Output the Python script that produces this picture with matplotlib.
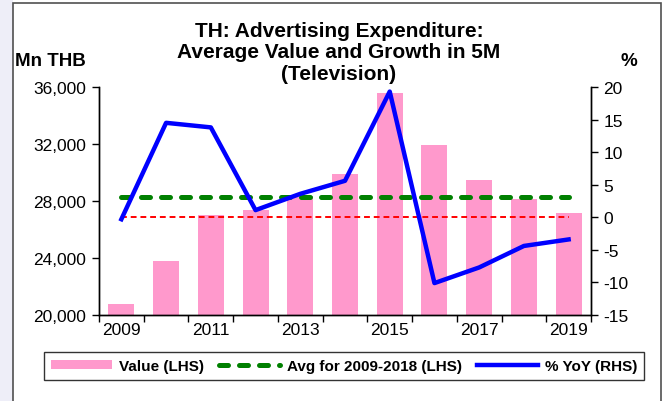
#!/usr/bin/python3
# -*- coding: utf-8 -*-

import numpy as np
import matplotlib
matplotlib.use('Agg')
import matplotlib.pyplot as plt
from matplotlib.patches import Rectangle

plt.rcParams['font.family'] = ['Liberation Sans', 'DejaVu Sans']
plt.rcParams['axes.unicode_minus'] = False

years = [2009, 2010, 2011, 2012, 2013, 2014, 2015, 2016, 2017, 2018, 2019]
value_lhs = [20770, 23790, 27040, 27350, 28370, 29870, 35580, 31930, 29470, 28160, 27180]
avg_2009_2018 = 28250
yoy_rhs = [-0.3, 14.5, 13.8, 1.1, 3.6, 5.6, 19.3, -10.1, -7.7, -4.4, -3.4]
zero_line = 0

fig = plt.figure(figsize=(6.67, 4.02), dpi=100)

# outer frame and light strip on the left, like the source slide
fig.patches.append(Rectangle((0, 0), 13 / 667, 1, transform=fig.transFigure,
                             facecolor='#eeeef8', edgecolor='none', zorder=-10))
fig.patches.append(Rectangle((13 / 667, -0.05), 648 / 667, 1.04, transform=fig.transFigure,
                             facecolor='white', edgecolor='#505050', linewidth=1.2, zorder=-9))

ax = fig.add_axes([99 / 667, 1 - 316 / 402, 492 / 667, 228 / 402])
ax2 = ax.twinx()
ax.set_zorder(1)
ax2.set_zorder(2)
ax.patch.set_visible(False)
ax2.patch.set_visible(False)

x = np.arange(len(years))

bars = ax.bar(x, value_lhs, width=0.58, color='#ff99cc', label='Value (LHS)', zorder=1)
avg_line, = ax.plot([x[0], x[-1]], [avg_2009_2018, avg_2009_2018], color='#008000', linewidth=3.6,
                    dashes=(1.8, 2.2), dash_capstyle='round', label='Avg for 2009-2018 (LHS)', zorder=3)

ax2.plot([x[0], x[-1]], [zero_line, zero_line], color='#ff0000', linewidth=1.4, dashes=(3, 2), zorder=2)
yoy_line, = ax2.plot(x, yoy_rhs, color='#0000ff', linewidth=3.2, label='% YoY (RHS)', zorder=4)

ax.set_xlim(-0.5, 10.5)
ax.set_ylim(20000, 36000)
ax.set_yticks(np.arange(20000, 36001, 4000))
ax.set_yticklabels(['{:,}'.format(v) for v in range(20000, 36001, 4000)])
ax2.set_ylim(-15, 20)
ax2.set_yticks(np.arange(-15, 21, 5))

# ticks at category boundaries, labels at every other category centre
ax.set_xticks(np.arange(-0.5, 11, 1))
ax.set_xticklabels([])
ax.set_xticks(x[::2], minor=True)
ax.set_xticklabels([str(y) for y in years[::2]], minor=True)
ax.tick_params(axis='x', which='major', direction='out', length=5, width=1)
ax.tick_params(axis='x', which='minor', length=0, labelsize=12.5, pad=5)
ax.tick_params(axis='y', direction='out', length=5, width=1, labelsize=12.5, pad=4)
ax2.tick_params(axis='y', direction='out', length=5, width=1, labelsize=12.5, pad=4)

for a in (ax, ax2):
    a.spines['top'].set_visible(False)
    for s in ('left', 'right', 'bottom'):
        a.spines[s].set_color('black')
        a.spines[s].set_linewidth(1)

fig.text(339 / 667, 1 - 53 / 402, 'TH: Advertising Expenditure:\nAverage Value and Growth in 5M\n(Television)',
         ha='center', va='center', fontsize=15, fontweight='bold', linespacing=1.17)
fig.text(15 / 667, 1 - 62 / 402, 'Mn THB', ha='left', va='center', fontsize=13.5, fontweight='bold')
fig.text(629 / 667, 1 - 62 / 402, '%', ha='center', va='center', fontsize=13.5, fontweight='bold')

leg = fig.legend([bars, avg_line, yoy_line], ['Value (LHS)', 'Avg for 2009-2018 (LHS)', '% YoY (RHS)'],
                 loc='center', bbox_to_anchor=(344 / 667, 1 - 367 / 402), ncol=3, frameon=True,
                 fancybox=False, edgecolor='black', prop={'weight': 'bold', 'size': 11},
                 handlelength=4.0, handleheight=0.5, columnspacing=1.0, handletextpad=0.45,
                 borderpad=0.45, borderaxespad=0)
leg.get_frame().set_linewidth(1)

plt.savefig('out.png', dpi=100)
